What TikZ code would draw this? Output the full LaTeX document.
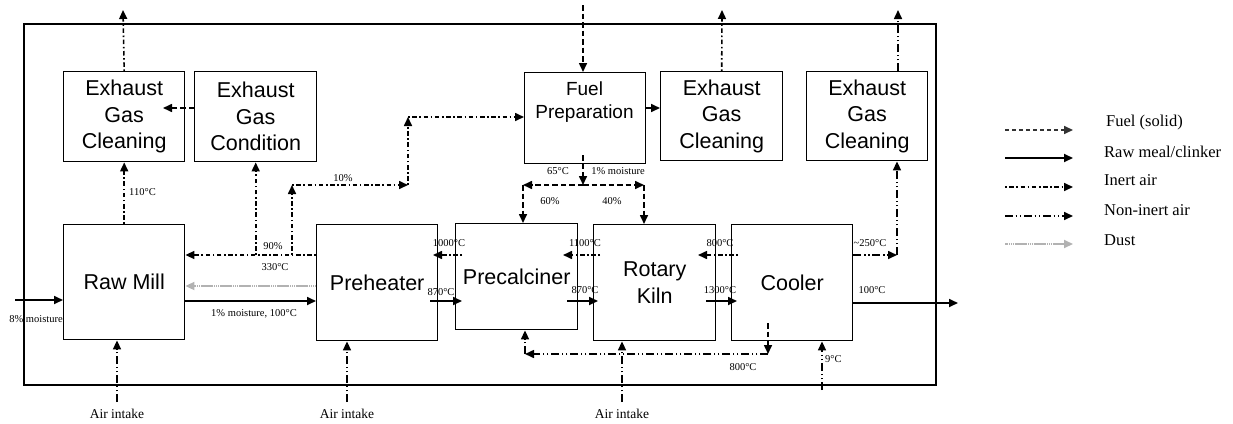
\documentclass[tikz,border=0pt]{standalone}
\usepackage{fontspec}
\setmainfont{Liberation Serif}
\newfontfamily\arial{Liberation Sans}
\usetikzlibrary{arrows.meta}
\begin{document}
\begin{tikzpicture}[x=1pt,y=-1pt,
 box/.style={draw, line width=1.4pt, inner sep=0pt, align=center, anchor=north west, font=\arial\fontsize{21.5}{26.5}\selectfont},
 lbl/.style={font=\fontsize{10.5}{12}\selectfont, inner sep=0pt},
 airlbl/.style={font=\fontsize{13.5}{15}\selectfont, inner sep=0pt},
 leglbl/.style={font=\fontsize{16.5}{18}\selectfont, inner sep=0pt, anchor=west},
 flow/.style={line width=1.6pt, -{Triangle[length=9pt,width=8pt]}},
 inert/.style={flow, dash pattern=on 1.6pt off 2.6pt on 4.5pt off 2.6pt},
 noninert/.style={flow, dash pattern=on 8pt off 2.6pt on 1.6pt off 2.6pt on 1.6pt off 2.6pt},
 fuelflow/.style={flow, dash pattern=on 5.5pt off 3pt},
 meal/.style={flow, line width=1.7pt},
 dustflow/.style={flow, gray!60, line width=1.8pt, dash pattern=on 1.5pt off 0.4pt},
]
\useasboundingbox (0,0) rectangle (1233,423);
% frame
\draw[line width=1.1pt] (24,24) rectangle (936,385);

% boxes
\node[box, minimum width=121, minimum height=90] (egc1) at (63,71) {Exhaust\\Gas\\Cleaning};
\node[box, minimum width=122, minimum height=90] (egcond) at (194,71) {Exhaust\\Gas\\Condition};
\node[box, minimum width=121, minimum height=91] (fp) at (524,72) {};
\node[font=\arial\fontsize{19}{23}\selectfont, align=center, inner sep=0pt] (fpt) at (584.5,102) {Fuel\\Preparation};
\node[box, minimum width=122, minimum height=89] (egc2) at (660,71) {Exhaust\\Gas\\Cleaning};
\node[box, minimum width=121, minimum height=89] (egc3) at (806,71) {Exhaust\\Gas\\Cleaning};
\node[box, minimum width=121, minimum height=115] (rm) at (63,224) {Raw Mill};
\node[box, minimum width=121, minimum height=116] (ph) at (316,224) {Preheater};
\node[box, minimum width=122, minimum height=106] (pc) at (455,223) {Precalciner};
\node[box, minimum width=122, minimum height=116] (rk) at (593,224) {Rotary\\Kiln};
\node[box, minimum width=121, minimum height=116] (cool) at (731,224) {Cooler};

% free ends and junctions
\coordinate (o1) at (123,10);
\coordinate (o2) at (722,10);
\coordinate (o3) at (898,10);
\coordinate (fin) at (583,5);
\coordinate (min) at (15,300);
\coordinate (mout) at (958,303);
\coordinate (a1) at (117,402);
\coordinate (a2) at (347,402);
\coordinate (a3) at (622,402);
\coordinate (a4) at (822,390);
\coordinate (j1) at (292,255);
\coordinate (j2) at (292,185);
\coordinate (j3) at (408,185);
\coordinate (j4) at (408,117);
\coordinate (f1) at (583,155);
\coordinate (f2) at (583,185);
\coordinate (f3) at (523,185);
\coordinate (f4) at (644,185);
\coordinate (t1) at (768,323);
\coordinate (t2) at (768,354);
\coordinate (t3) at (525,354);
\coordinate (c1) at (897,255);

% exhaust lines
\draw[inert] (egc1.north) -- (o1);
\draw[inert] (egc2.north) -- (o2);
\draw[noninert] (egc3.north -| o3) -- (o3);
\draw[fuelflow] (egcond.west |- 0,108) -- (163,108);
\draw[inert] (rm.north) -- (egc1.south);
\node[lbl, anchor=west] (l110) at (129,192) {110°C};

% preheater gas back to raw mill
\draw[inert] (ph.west |- j1) -- (rm.east |- j1);
\draw[inert] (egcond.south |- j1) -- (egcond.south);
\draw[inert] (j1) -- (j2);
\draw[inert] (j2) -- (j3);
\draw[inert] (j3) -- (j4);
\draw[inert] (j4) -- (fp.west |- j4);
\node[lbl] (l90) at (273,246) {90\%};
\node[lbl] (l330) at (275,267) {330°C};
\node[lbl] (l10) at (343,178) {10\%};

% dust and raw meal
\draw[dustflow] (ph.west |- 0,286) -- (rm.east |- 0,286);
\draw[meal] (rm.east |- 0,301) -- (ph.west |- 0,301);
\node[lbl] (lrm) at (254,314) {1\% moisture, 100°C};
\draw[meal] (min) -- (rm.west |- min);
\node[lbl] (l8) at (36,319) {8\% moisture};

% air intakes
\draw[noninert] (a1) -- (rm.south -| a1);
\draw[noninert] (a2) -- (ph.south -| a2);
\draw[noninert] (a3) -- (rk.south -| a3);
\node[airlbl] (ai1) at (117,414) {Air intake};
\node[airlbl] (ai2) at (347,414) {Air intake};
\node[airlbl] (ai3) at (622,414) {Air intake};

% preheater - precalciner
\draw[inert] (462,255) -- (433,255);
\draw[meal] (430,301) -- (462,301);
\node[lbl] (l1000) at (449,243) {1000°C};
\node[lbl] (l870a) at (441,292) {870°C};

% precalciner - kiln
\draw[inert] (600,255) -- (563,255);
\draw[meal] (567,301) -- (598,301);
\node[lbl] (l1100) at (585,243) {1100°C};
\node[lbl] (l870b) at (585,290) {870°C};

% kiln - cooler
\draw[inert] (738,255) -- (698,255);
\draw[meal] (706,301) -- (737,301);
\node[lbl] (l800a) at (720,243) {800°C};
\node[lbl] (l1300) at (720,290) {1300°C};

% cooler outputs
\draw[noninert] (cool.east |- c1) -- (c1);
\draw[noninert] (c1) -- (egc3.south -| c1);
\node[lbl] (l250) at (870,243) {\textasciitilde250°C};
\draw[meal] (cool.east |- mout) -- (mout);
\node[lbl] (l100) at (872,290) {100°C};
\draw[noninert] (a4) -- (cool.south -| a4);
\node[lbl, anchor=west] (l9) at (825,359) {9°C};

% tertiary air
\draw[fuelflow] (t1) -- (t2);
\draw[noninert] (t2) -- (t3);
\draw[noninert] (t3) -- (pc.south -| t3);
\node[lbl] (l800b) at (743,367) {800°C};

% fuel
\draw[fuelflow] (fin) -- (fp.north -| fin);
\draw[fuelflow] (fp.east |- 0,108) -- (egc2.west |- 0,108);
\draw[fuelflow] (f1) -- (f2);
\draw[fuelflow] (f2) -- (f3);
\draw[fuelflow] (f3) -- (pc.north -| f3);
\draw[fuelflow] (f2) -- (f4);
\draw[fuelflow] (f4) -- (rk.north -| f4);
\node[lbl] (l65) at (558,171) {65°C};
\node[lbl] (l1m) at (618,171) {1\% moisture};
\node[lbl] (l60) at (550,201) {60\%};
\node[lbl] (l40) at (612,201) {40\%};

% legend
\coordinate (g1a) at (1005,130); \coordinate (g1b) at (1073,130);
\coordinate (g2a) at (1005,158); \coordinate (g2b) at (1073,158);
\coordinate (g3a) at (1005,187); \coordinate (g3b) at (1073,187);
\coordinate (g4a) at (1005,216); \coordinate (g4b) at (1073,216);
\coordinate (g5a) at (1005,244); \coordinate (g5b) at (1073,244);
\draw[fuelflow, black!80, dash pattern=on 4pt off 3pt] (g1a) -- (g1b);
\draw[meal] (g2a) -- (g2b);
\draw[inert] (g3a) -- (g3b);
\draw[noninert] (g4a) -- (g4b);
\draw[dustflow] (g5a) -- (g5b);
\node[leglbl] (lg1) at (1106,123) {Fuel (solid)};
\node[leglbl] (lg2) at (1104,152) {Raw meal/clinker};
\node[leglbl] (lg3) at (1104,180) {Inert air};
\node[leglbl] (lg4) at (1104,210) {Non-inert air};
\node[leglbl] (lg5) at (1104,240) {Dust};
\end{tikzpicture}
\end{document}
